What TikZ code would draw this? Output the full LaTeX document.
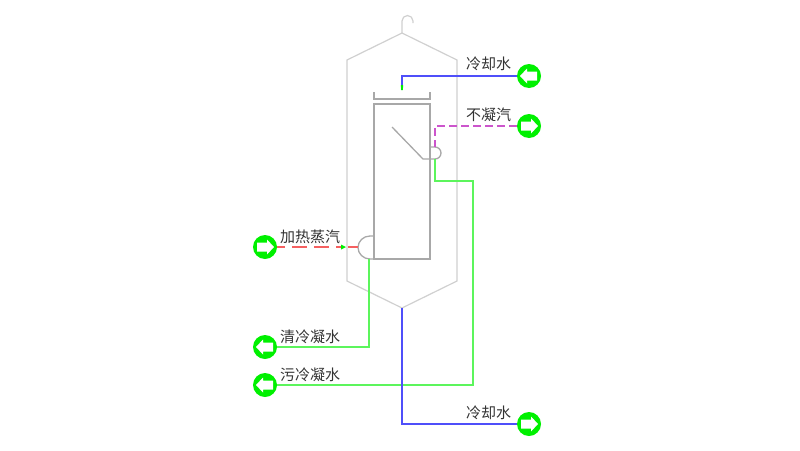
\documentclass[tikz,border=0pt]{standalone}
\usepackage{fontspec}
\setmainfont{Noto Sans CJK SC}
\usetikzlibrary{calc}
\definecolor{vessel}{HTML}{D0D0D0}
\definecolor{inner}{HTML}{A8A8A8}
\definecolor{pgreen}{HTML}{00F000}
\definecolor{lgreen}{HTML}{5CF55C}
\definecolor{lblue}{HTML}{4F4FFA}
\definecolor{lmag}{HTML}{CC55CC}
\definecolor{lred}{HTML}{F56060}
\definecolor{txt}{HTML}{333333}
\tikzset{
  shell/.style={draw=vessel,line width=1.2pt,line join=miter},
  unit/.style={draw=inner,line width=1.3pt},
  cold/.style={draw=lblue,line width=1.5pt},
  cond/.style={draw=lgreen,line width=1.5pt},
  vent/.style={draw=lmag,line width=1.5pt,dash pattern=on 8pt off 4pt},
  steam/.style={draw=lred,line width=1.5pt,dash pattern=on 15pt off 7pt,dash phase=7pt},
  steamsolid/.style={draw=lred,line width=1.5pt},
  portbase/.style={circle,fill=pgreen,minimum size=24pt,inner sep=0pt},
  portright/.style={portbase,path picture={
    \fill[white] ($(path picture bounding box.center)+(-8,-4.5)$) -- ++(10,0) -- ++(0,-3) -- ++(7,7.5) -- ++(-7,7.5) -- ++(0,-3) -- ++(-10,0) -- cycle;}},
  portleft/.style={portbase,path picture={
    \fill[white] ($(path picture bounding box.center)+(8,-4.5)$) -- ++(-10,0) -- ++(0,-3) -- ++(-7,7.5) -- ++(7,7.5) -- ++(0,-3) -- ++(10,0) -- cycle;}},
  lab/.style={text=txt,font=\fontsize{15}{17}\selectfont,inner sep=0pt}
}
\begin{document}
\begin{tikzpicture}[x=1pt,y=-1pt]
\useasboundingbox (0,0) rectangle (800,450);
% vessel
\draw[shell] (402,33) -- (457,60) -- (457,281) -- (402,308) -- (347,281) -- (347,60) -- cycle;
\draw[shell] (402,33) -- (402,21) arc[start angle=180,end angle=0,radius=5.5pt] -- (413,23);
% ports
\node[portleft]  (cwin)  at (529,76) {};
\node[portright] (vent)  at (529,126) {};
\node[portright] (steamp) at (265,247) {};
\node[portleft]  (clean) at (265,347) {};
\node[portleft]  (dirty) at (265,385) {};
\node[portright] (cwout) at (529,424) {};
% inner unit
\coordinate (boxtl) at (374,104);
\coordinate (boxbr) at (430,259);
\draw[unit] (boxtl) rectangle (boxbr);
\draw[unit] (374,92) -- (374,99) -- (430,99) -- (430,92);
\draw[unit] (392,127) -- (423,159) -- (435,159);
\draw[unit] (430,147) -- (435,147) arc[start angle=90,end angle=-90,radius=6pt];
\draw[unit] (374,236) -- (370,236) arc[start angle=90,end angle=270,x radius=12pt,y radius=11.5pt] -- (374,259);
% connectors
\coordinate (cwtip) at (402,88);
\coordinate (ventend) at (435,147);
\coordinate (dirtystart) at (435,159);
\coordinate (cleanstart) at (369,259);
\coordinate (cwbase) at (402,308);
\coordinate (steammid) at (342,247);
\coordinate (steamgap) at (348,247);
\coordinate (steamend) at (358,247);
\draw[cold] (cwin.west) -- (402,76) -- (cwtip);
\draw[vent] (vent.west) -- (435,126) -- (ventend);
\draw[cond] (dirtystart) -- (435,181) -- (473,181) -- (473,385) -- (dirty.east);
\draw[cond] (cleanstart) -- (369,347) -- (clean.east);
\draw[cold] (cwbase) -- (402,424) -- (cwout.west);
\draw[steam] (steamp.east) -- (steammid);
\draw[steamsolid] (steamgap) -- (steamend);
\fill[pgreen] (400.8,85) -- (403.2,85) -- (402.8,90) -- (401.2,90) -- cycle;
\fill[pgreen] (341,244.5) -- (346,247) -- (341,249.5) -- cycle;
% labels
\node[lab] (t1) at (488.5,64) {冷却水};
\node[lab] (t2) at (488.5,115) {不凝汽};
\node[lab] (t3) at (310,237) {加热蒸汽};
\node[lab] (t4) at (310,337) {清冷凝水};
\node[lab] (t5) at (310,375) {污冷凝水};
\node[lab] (t6) at (488.5,413) {冷却水};
\end{tikzpicture}
\end{document}
